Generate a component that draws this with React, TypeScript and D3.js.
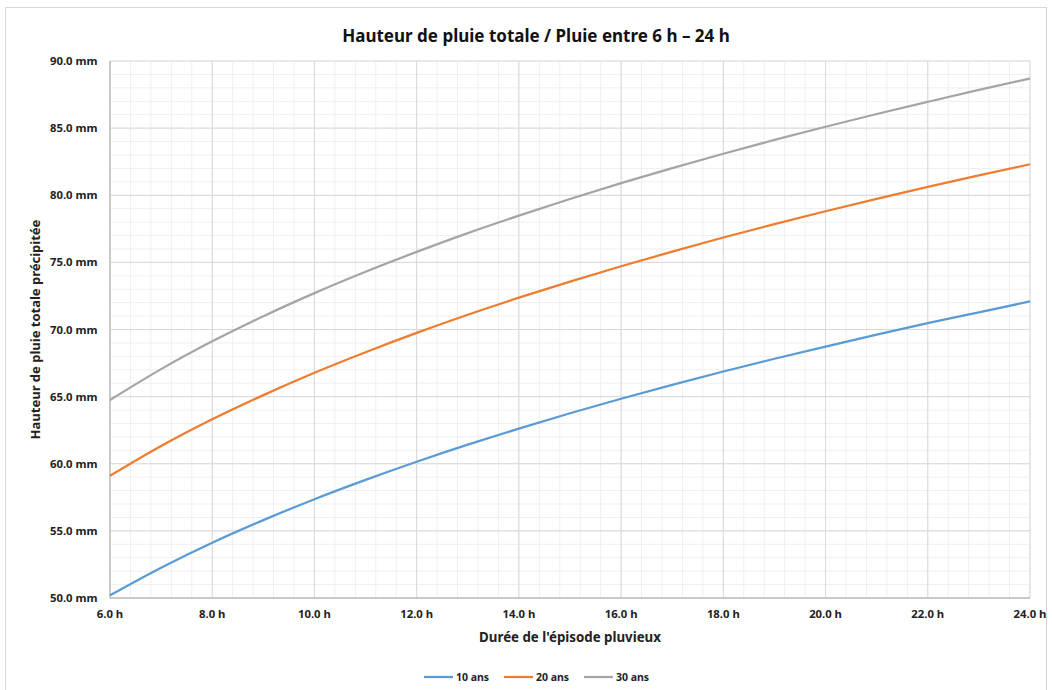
import React from "react";
import * as d3 from "d3";

// Durée (h) et hauteurs de pluie (mm) par période de retour
const durations = [6, 7, 8, 9, 10, 11, 12, 13, 14, 15, 16, 17, 18, 19, 20, 21, 22, 23, 24];
const rain10 = [50.2, 52.26, 54.12, 55.8, 57.36, 58.8, 60.15, 61.42, 62.62, 63.76, 64.84, 65.88, 66.87, 67.82, 68.73, 69.62, 70.47, 71.28, 72.09];
const rain20 = [59.1, 61.32, 63.31, 65.11, 66.78, 68.31, 69.75, 71.1, 72.37, 73.57, 74.71, 75.8, 76.85, 77.85, 78.81, 79.73, 80.62, 81.48, 82.31];
const rain30 = [64.75, 67.05, 69.12, 70.99, 72.71, 74.3, 75.78, 77.18, 78.48, 79.72, 80.9, 82.02, 83.09, 84.12, 85.1, 86.05, 86.96, 87.85, 88.7];
const seriesNames = ["10 ans", "20 ans", "30 ans"];
const seriesColors = ["#5B9BD5", "#ED7D31", "#A5A5A5"];
const xTicks = [6, 8, 10, 12, 14, 16, 18, 20, 22, 24];
const yTicks = [50, 55, 60, 65, 70, 75, 80, 85, 90];

const W = 1052;
const H = 690;
const FONT = "'Noto Sans', 'Open Sans', sans-serif";

export default function App() {
  const m = { left: 110, right: 1030, top: 61, bottom: 598 };
  const x = d3.scaleLinear().domain([6, 24]).range([m.left, m.right]);
  const y = d3.scaleLinear().domain([50, 90]).range([m.bottom, m.top]);

  const minorX = d3.range(6, 24.001, 0.4).map((v) => +v.toFixed(2));
  const minorY = d3.range(50, 90.001, 1);

  const series = [rain10, rain20, rain30];
  const line = d3
    .line<number>()
    .x((_, i) => x(durations[i]))
    .y((d) => y(d))
    .curve(d3.curveMonotoneX);

  const legendX = [424, 504, 584];

  return (
    <svg
      width={W}
      height={H}
      style={{ position: "absolute", left: 0, top: 0, background: "#fff" }}
      fontFamily={FONT}
    >
      <rect x={5.5} y={7.5} width={1041} height={700} fill="#fff" stroke="#D9D9D9" />

      <text x={536} y={42} textAnchor="middle" fontSize={17} fontWeight="bold" fill="#111">
        Hauteur de pluie totale / Pluie entre 6 h – 24 h
      </text>

      {/* grille secondaire */}
      {minorX.map((v) => (
        <line key={"mx" + v} x1={x(v)} x2={x(v)} y1={m.top} y2={m.bottom} stroke="#EFEFEF" strokeWidth={1} />
      ))}
      {minorY.map((v) => (
        <line key={"my" + v} x1={m.left} x2={m.right} y1={y(v)} y2={y(v)} stroke="#EFEFEF" strokeWidth={1} />
      ))}
      {/* grille principale */}
      {xTicks.map((v) => (
        <line key={"Mx" + v} x1={x(v)} x2={x(v)} y1={m.top} y2={m.bottom} stroke="#D9D9D9" strokeWidth={1} />
      ))}
      {yTicks.map((v) => (
        <line key={"My" + v} x1={m.left} x2={m.right} y1={y(v)} y2={y(v)} stroke="#D9D9D9" strokeWidth={1} />
      ))}
      {/* axes */}
      <line x1={m.left} x2={m.left} y1={m.top} y2={m.bottom} stroke="#BFBFBF" strokeWidth={1.5} />
      <line x1={m.left} x2={m.right} y1={m.bottom} y2={m.bottom} stroke="#BFBFBF" strokeWidth={1.5} />

      {yTicks.map((v) => (
        <text key={"yl" + v} x={97.5} y={y(v) + 4} textAnchor="end" fontSize={11.3} fontWeight="bold" fill="#222">
          {v.toFixed(1)} mm
        </text>
      ))}
      {xTicks.map((v) => (
        <text key={"xl" + v} x={x(v)} y={618} textAnchor="middle" fontSize={11.3} fontWeight="bold" fill="#222">
          {v.toFixed(1)} h
        </text>
      ))}

      <text
        transform={`translate(40, ${(m.top + m.bottom) / 2}) rotate(-90)`}
        textAnchor="middle"
        fontSize={13}
        fontWeight="bold"
        fill="#222"
      >
        Hauteur de pluie totale précipitée
      </text>
      <text x={570} y={642} textAnchor="middle" fontSize={13.3} fontWeight="bold" fill="#222">
        Durée de l'épisode pluvieux
      </text>

      {series.map((s, i) => (
        <path key={"s" + i} d={line(s) || ""} fill="none" stroke={seriesColors[i]} strokeWidth={2.25} />
      ))}

      {seriesNames.map((n, i) => (
        <g key={"lg" + i}>
          <line x1={legendX[i]} x2={legendX[i] + 29} y1={677} y2={677} stroke={seriesColors[i]} strokeWidth={2.25} />
          <text x={legendX[i] + 32} y={681} fontSize={10.5} fontWeight="bold" fill="#222">
            {n}
          </text>
        </g>
      ))}
    </svg>
  );
}
